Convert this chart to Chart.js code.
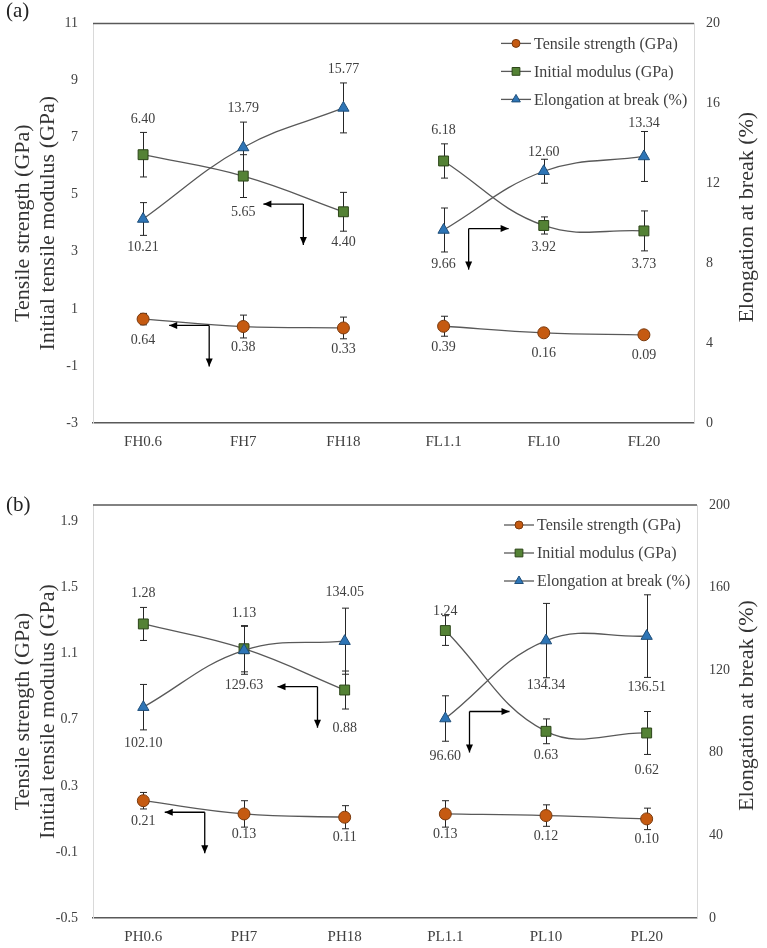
<!DOCTYPE html>
<html>
<head>
<meta charset="utf-8">
<script src="https://cdn.jsdelivr.net/npm/chart.js@4"></script>
<style>
  body { margin: 0; background: #fff; }
  canvas { display: block; }
</style>
</head>
<body>
<canvas id="chartA" width="767" height="470"></canvas>
<canvas id="chartB" width="767" height="478"></canvas>
<script>
// ---- data (a) ----
const labelsA = ['FH0.6', 'FH7', 'FH18', 'FL1.1', 'FL10', 'FL20'];
const tensileA = [0.64, 0.38, 0.33, 0.39, 0.16, 0.09];
const tensileErrA = [0.2, 0.4, 0.38, 0.35, 0.1, 0.1];
const modulusA = [6.40, 5.65, 4.40, 6.18, 3.92, 3.73];
const modulusErrA = [0.78, 0.75, 0.68, 0.6, 0.3, 0.7];
const elongA = [10.21, 13.79, 15.77, 9.66, 12.60, 13.34];
const elongErrA = [0.82, 1.27, 1.25, 1.1, 0.6, 1.25];
const leftTicksA = [-3, -1, 1, 3, 5, 7, 9, 11];
const rightTicksA = [0, 4, 8, 12, 16, 20];

// ---- data (b) ----
const labelsB = ['PH0.6', 'PH7', 'PH18', 'PL1.1', 'PL10', 'PL20'];
const tensileB = [0.21, 0.13, 0.11, 0.13, 0.12, 0.10];
const tensileErrB = [0.05, 0.08, 0.07, 0.08, 0.065, 0.065];
const modulusB = [1.28, 1.13, 0.88, 1.24, 0.63, 0.62];
const modulusErrB = [0.1, 0.14, 0.115, 0.09, 0.075, 0.13];
const elongB = [102.10, 129.63, 134.05, 96.60, 134.34, 136.51];
const elongErrB = [11, 11.6, 16, 11, 18, 20];
const leftTicksB = [-0.5, -0.1, 0.3, 0.7, 1.1, 1.5, 1.9];
const rightTicksB = [0, 40, 80, 120, 160, 200];

const seriesNames = ['Tensile strength (GPa)', 'Initial modulus (GPa)', 'Elongation at break (%)'];
const leftTitle = ['Tensile strength (GPa)', 'Initial tensile modulus (GPa)'];
const rightTitle = 'Elongation at break (%)';

// arrow annotations: corner at (category index, left axis value)
const arrowsA = [{ at: 1.6, v: 4.67, dir: -1 }, { at: 0.66, v: 0.42, dir: -1 }, { at: 3.25, v: 3.81, dir: 1 }];
const arrowsB = [{ at: 1.73, v: 0.90, dir: -1 }, { at: 0.61, v: 0.14, dir: -1 }, { at: 3.24, v: 0.75, dir: 1 }];

const FONT = '"Liberation Serif", "Times New Roman", serif';
Chart.defaults.font.family = FONT;
Chart.defaults.color = '#404040';

const LINE = '#595959';

function drawMarker(ctx, style, x, y, r) {
  ctx.beginPath();
  if (style === 'circle') {
    ctx.arc(x, y, r, 0, Math.PI * 2);
  } else if (style === 'rect') {
    const s = r * Math.SQRT1_2;
    ctx.rect(x - s, y - s, 2 * s, 2 * s);
  } else {
    const w = r * Math.sin(Math.PI / 3);
    ctx.moveTo(x, y - r);
    ctx.lineTo(x + w, y + r / 2);
    ctx.lineTo(x - w, y + r / 2);
    ctx.closePath();
  }
  ctx.fill();
  ctx.stroke();
}

function arrow(ctx, x0, y0, x1, y1) {
  ctx.beginPath();
  ctx.moveTo(x0, y0);
  ctx.lineTo(x1, y1);
  ctx.stroke();
  const a = Math.atan2(y1 - y0, x1 - x0), h = 8, w = 3.5;
  ctx.beginPath();
  ctx.moveTo(x1, y1);
  ctx.lineTo(x1 - h * Math.cos(a) + w * Math.sin(a), y1 - h * Math.sin(a) - w * Math.cos(a));
  ctx.lineTo(x1 - h * Math.cos(a) - w * Math.sin(a), y1 - h * Math.sin(a) + w * Math.cos(a));
  ctx.closePath();
  ctx.fill();
}

const decorPlugin = {
  id: 'decor',
  beforeDatasetsDraw(chart) {
    // error bars, under the markers
    const ctx = chart.ctx;
    const xs = chart.scales.x;
    ctx.save();
    ctx.strokeStyle = '#262626';
    ctx.lineWidth = 1;
    chart.data.datasets.forEach(ds => {
      const ys = chart.scales[ds.yAxisID];
      ds.data.forEach((v, i) => {
        if (v === null) return;
        const px = Math.round(xs.getPixelForValue(i)) + 0.5;
        const t = ys.getPixelForValue(v + ds.errors[i]);
        const b = ys.getPixelForValue(v - ds.errors[i]);
        ctx.beginPath();
        ctx.moveTo(px, t); ctx.lineTo(px, b);
        ctx.moveTo(px - 3.5, t); ctx.lineTo(px + 3.5, t);
        ctx.moveTo(px - 3.5, b); ctx.lineTo(px + 3.5, b);
        ctx.stroke();
      });
    });
    ctx.restore();
  },
  afterDraw(chart, args, opts) {
    const ctx = chart.ctx;
    const area = chart.chartArea;
    const xs = chart.scales.x;
    const yl = chart.scales.y;
    ctx.save();

    // top frame line
    ctx.strokeStyle = LINE;
    ctx.lineWidth = 1.5;
    ctx.beginPath();
    ctx.moveTo(area.left, area.top);
    ctx.lineTo(area.right, area.top);
    ctx.stroke();

    // data labels
    ctx.fillStyle = '#404040';
    ctx.font = '14px ' + FONT;
    ctx.textAlign = 'center';
    ctx.textBaseline = 'middle';
    chart.data.datasets.forEach(ds => {
      const ys = chart.scales[ds.yAxisID];
      ds.data.forEach((v, i) => {
        if (v === null) return;
        ctx.fillText(v.toFixed(2), xs.getPixelForValue(i), ys.getPixelForValue(v) + ds.labelDy[i]);
      });
    });

    // arrows
    ctx.strokeStyle = '#000';
    ctx.fillStyle = '#000';
    ctx.lineWidth = 1.3;
    opts.arrows.forEach(a => {
      const cx = xs.getPixelForValue(a.at);
      const cy = yl.getPixelForValue(a.v);
      arrow(ctx, cx, cy, cx + a.dir * 40, cy);
      arrow(ctx, cx, cy, cx, cy + 41);
    });

    // legend
    const lx = area.right - 193;
    ctx.font = '16px ' + FONT;
    ctx.textAlign = 'left';
    chart.data.datasets.filter(ds => ds.inLegend).forEach((ds, k) => {
      const ly = area.top + 20 + k * 28;
      ctx.strokeStyle = ds.borderColor;
      ctx.lineWidth = 1.3;
      ctx.beginPath();
      ctx.moveTo(lx, ly); ctx.lineTo(lx + 30, ly);
      ctx.stroke();
      ctx.fillStyle = ds.pointBackgroundColor;
      ctx.strokeStyle = ds.pointBorderColor;
      ctx.lineWidth = 1;
      drawMarker(ctx, ds.pointStyle, lx + 15, ly, ds.pointStyle === 'triangle' ? 5 : (ds.pointStyle === 'rect' ? 5.5 : 4));
      ctx.fillStyle = '#404040';
      ctx.fillText(ds.seriesName, lx + 33, ly + 1);
    });

    // right axis title (reads bottom to top)
    ctx.save();
    ctx.translate(chart.width - 20, (area.top + area.bottom) / 2 - 6);
    ctx.rotate(-Math.PI / 2);
    ctx.font = '22px ' + FONT;
    ctx.fillStyle = '#333';
    ctx.textAlign = 'center';
    ctx.fillText(rightTitle, 0, 0);
    ctx.restore();

    // panel tag
    ctx.font = '21px ' + FONT;
    ctx.fillStyle = '#222';
    ctx.textAlign = 'left';
    ctx.fillText(opts.tag, 6, opts.tagY);
    ctx.restore();
  }
};

function makeChart(id, o) {
  const groups = [[0, 1, 2], [3, 4, 5]];
  const series = [
    { values: o.tensile, err: o.tensileErr, dy: o.tensileDy, axis: 'y', style: 'circle', r: 6,
      fill: '#C55A11', edge: '#7A3A0E', order: 2 },
    { values: o.modulus, err: o.modulusErr, dy: o.modulusDy, axis: 'y', style: 'rect', r: 7,
      fill: '#548235', edge: '#2C4519', order: 1 },
    { values: o.elong, err: o.elongErr, dy: o.elongDy, axis: 'y1', style: 'triangle', r: 6.5,
      fill: '#2E75B6', edge: '#1F4E79', order: 0 }
  ];
  const datasets = [];
  series.forEach((s, si) => {
    groups.forEach((g, gi) => {
      datasets.push({
        seriesName: seriesNames[si],
        inLegend: gi === 0,
        data: s.values.map((v, i) => g.includes(i) ? v : null),
        errors: s.err,
        labelDy: s.dy,
        yAxisID: s.axis,
        order: s.order,
        borderColor: LINE,
        borderWidth: 1.3,
        tension: 0.4,
        spanGaps: false,
        pointStyle: s.style,
        pointRadius: s.r,
        pointHoverRadius: s.r,
        pointBackgroundColor: s.fill,
        pointBorderColor: s.edge,
        pointBorderWidth: 1
      });
    });
  });

  return new Chart(document.getElementById(id), {
    type: 'line',
    data: { labels: o.labels, datasets },
    plugins: [decorPlugin],
    options: {
      responsive: false,
      animation: false,
      devicePixelRatio: 1,
      layout: { padding: { top: o.padTop, left: 0, right: 0, bottom: 0 } },
      plugins: {
        legend: { display: false },
        tooltip: { enabled: false },
        decor: { arrows: o.arrows, tag: o.tag, tagY: o.tagY }
      },
      scales: {
        x: {
          type: 'category',
          offset: true,
          grid: { display: false, drawTicks: false },
          border: { display: true, color: LINE, width: 1.5 },
          ticks: { padding: 10, color: '#404040', font: { size: 15 } },
          afterFit: s => { s.height = o.xHeight; }
        },
        y: {
          position: 'left',
          min: o.leftMin, max: o.leftMax,
          grid: { display: false, drawTicks: false },
          border: { display: true, color: '#d9d9d9', width: 1 },
          ticks: { padding: 15, color: '#404040', font: { size: 14 }, callback: v => String(v) },
          afterBuildTicks: s => { s.ticks = o.leftTicks.map(v => ({ value: v })); },
          title: {
            display: true, text: leftTitle, color: '#333',
            font: { size: 22, lineHeight: 1.12 }, padding: { top: 11, bottom: 0 }
          },
          afterFit: s => { s.width = 93; }
        },
        y1: {
          position: 'right',
          min: o.rightMin, max: o.rightMax,
          grid: { display: false, drawTicks: false },
          border: { display: true, color: '#d9d9d9', width: 1 },
          ticks: { padding: 12, color: '#404040', font: { size: 14 }, callback: v => String(v) },
          afterBuildTicks: s => { s.ticks = o.rightTicks.map(v => ({ value: v })); },
          afterFit: s => { s.width = o.rightWidth; }
        }
      }
    }
  });
}

makeChart('chartA', {
  labels: labelsA,
  tensile: tensileA, tensileErr: tensileErrA, tensileDy: [21, 21, 21, 21, 21, 21],
  modulus: modulusA, modulusErr: modulusErrA, modulusDy: [-35, 36, 31, -31, 22, 33],
  elong: elongA, elongErr: elongErrA, elongDy: [28, -39, -39, 34, -19, -33],
  leftMin: -3, leftMax: 11, leftTicks: leftTicksA,
  rightMin: 0, rightMax: 20, rightTicks: rightTicksA,
  arrows: arrowsA, tag: '(a)', tagY: 11,
  padTop: 14, xHeight: 47, rightWidth: 73
});

makeChart('chartB', {
  labels: labelsB,
  tensile: tensileB, tensileErr: tensileErrB, tensileDy: [21, 20, 20, 20, 21, 20],
  modulus: modulusB, modulusErr: modulusErrB, modulusDy: [-31, -35, 38, -19, 24, 37],
  elong: elongB, elongErr: elongErrB, elongDy: [36, 35, -49, 38, 45, 51],
  leftMin: -0.5, leftMax: 2.0, leftTicks: leftTicksB,
  rightMin: 0, rightMax: 200, rightTicks: rightTicksB,
  arrows: arrowsB, tag: '(b)', tagY: 35,
  padTop: 35, xHeight: 30, rightWidth: 70
});
</script>
</body>
</html>
